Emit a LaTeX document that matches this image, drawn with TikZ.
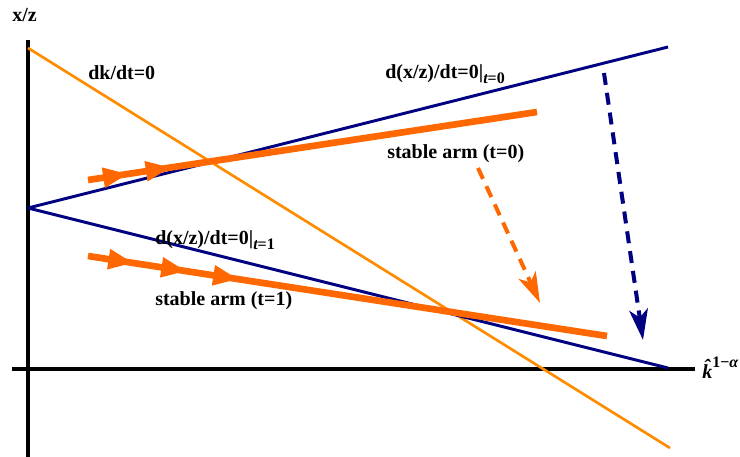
\documentclass[tikz,border=0pt]{standalone}
\usepackage{fontspec}
\setmainfont{Liberation Serif}
\usetikzlibrary{arrows.meta,decorations.markings}
\definecolor{navyline}{RGB}{0,0,128}
\definecolor{armorange}{RGB}{255,104,0}
\definecolor{kline}{RGB}{255,140,0}
\newcommand{\flowtip}{\arrow{Triangle[length=19pt,width=14pt]}}

\begin{document}
\begin{tikzpicture}[x=0.75pt,y=-0.75pt]
  % Styles local to this figure.
  \tikzset{
    axisline/.style={line width=2.6pt,black},
    knull/.style={line width=2pt,kline},
    xnull/.style={line width=2.2pt,navyline},
    arm/.style={line width=5pt,armorange},
    shiftarrow/.style={line width=3pt,dash pattern=on 9pt off 6pt,-{Stealth[length=23pt,width=14pt,inset=6pt]}},
    lbl/.style={inner sep=0pt,font=\fontsize{15}{18}\selectfont\bfseries}
  }
  \useasboundingbox (0,0) rectangle (740,457);

  % Axes.
  \coordinate (ytop) at (28,40);
  \coordinate (ybot) at (28,457);
  \coordinate (xl) at (12,369);
  \coordinate (xr) at (695,369);
  \draw[axisline] (ytop) -- (ybot);
  \draw[axisline] (xl) -- (xr);
  \node[lbl,anchor=base west] (ylab) at (12,21) {x/z};
  \node[lbl,anchor=base west] (xlab) at (702,378) {\itshape\^{k}\raisebox{1.1ex}{\fontsize{12}{12}\selectfont\upshape 1−\itshape α}};

  % dk/dt=0 locus.
  \coordinate (k0) at (28,48);
  \coordinate (k1) at (670,448);
  \draw[knull] (k0) -- (k1);
  \node[lbl,anchor=base west] (klab) at (88,79) {dk/dt=0};

  % d(x/z)/dt=0 loci before and after.
  \coordinate (s0) at (28,208);
  \coordinate (a0) at (668,47);
  \coordinate (a1) at (668,368);
  \draw[xnull] (s0) -- (a0);
  \draw[xnull] (s0) -- (a1);
  \node[lbl,anchor=base west] (zlab0) at (385,78) {d(x/z)/dt=0|\raisebox{-0.55ex}{\fontsize{12}{12}\selectfont\itshape t\upshape=0}};
  \node[lbl,anchor=base west] (zlab1) at (155,244) {d(x/z)/dt=0|\raisebox{-0.55ex}{\fontsize{12}{12}\selectfont\itshape t\upshape=1}};

  % Stable arms with flow marks.
  \coordinate (p0) at (88,180);
  \coordinate (q0) at (537,112);
  \coordinate (p1) at (88,256);
  \coordinate (q1) at (607,336);
  \draw[arm,postaction={decorate},decoration={markings,
      mark=at position 0.09 with {\flowtip},
      mark=at position 0.185 with {\flowtip}}] (p0) -- (q0);
  \draw[arm,postaction={decorate},decoration={markings,
      mark=at position 0.088 with {\flowtip},
      mark=at position 0.19 with {\flowtip},
      mark=at position 0.29 with {\flowtip}}] (p1) -- (q1);
  \node[lbl,anchor=base west] (armlab0) at (387,158) {stable arm (t=0)};
  \node[lbl,anchor=base west] (armlab1) at (155,305) {stable arm (t=1)};

  % Shifts after the change.
  \coordinate (d0) at (478,168);
  \coordinate (d1) at (540,303);
  \coordinate (e0) at (604,73);
  \coordinate (e1) at (643,340);
  \draw[shiftarrow,armorange] (d0) -- (d1);
  \draw[shiftarrow,navyline] (e0) -- (e1);
\end{tikzpicture}
\end{document}
